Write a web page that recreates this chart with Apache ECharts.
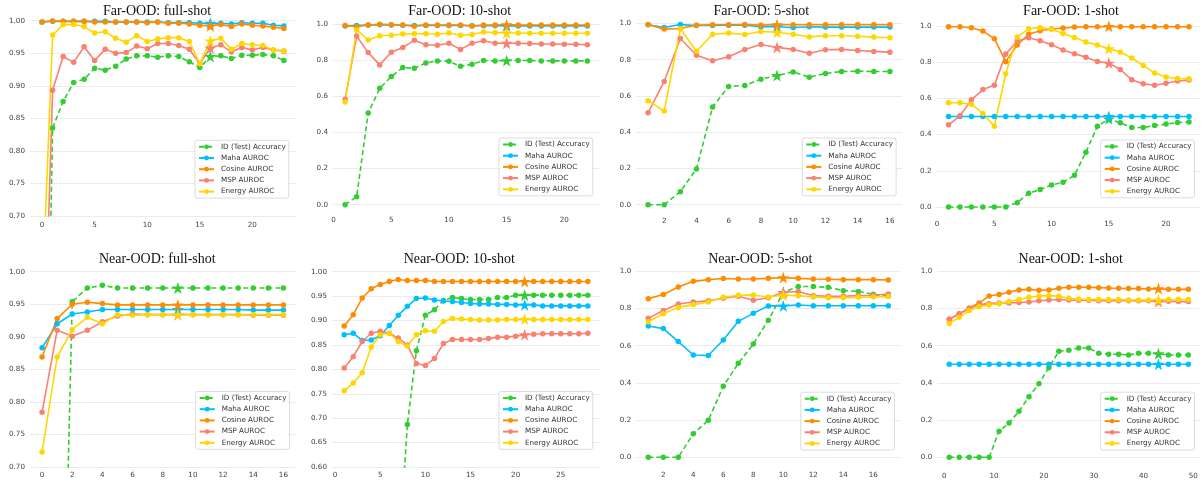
<!DOCTYPE html>
<html><head><meta charset="utf-8">
<script src="https://cdn.jsdelivr.net/npm/echarts@6/dist/echarts.min.js"></script>
<style>html,body{margin:0;padding:0;background:#fff}#c{width:1203px;height:486px}</style>
</head><body><div id="c"></div><script>
// ---------- DATA ----------
const seriesNames = ['ID (Test) Accuracy','Maha AUROC','Cosine AUROC','MSP AUROC','Energy AUROC'];
const panelTitles = ['Far-OOD: full-shot','Far-OOD: 10-shot','Far-OOD: 5-shot','Far-OOD: 1-shot',
                     'Near-OOD: full-shot','Near-OOD: 10-shot','Near-OOD: 5-shot','Near-OOD: 1-shot'];
const starX = [16, 15, 9, 15, 9, 21, 10, 43];

// Far-OOD full-shot
const farFullX = [0,1,2,3,4,5,6,7,8,9,10,11,12,13,14,15,16,17,18,19,20,21,22,23];
const farFullAcc = [0.0,0.835,0.876,0.905,0.910,0.927,0.924,0.930,0.941,0.946,0.946,0.944,0.946,0.945,0.937,0.928,0.945,0.946,0.942,0.947,0.947,0.948,0.946,0.939];
const farFullMaha = [0.998,0.9993,0.999,0.999,0.999,0.999,0.999,0.998,0.998,0.998,0.998,0.998,0.997,0.997,0.997,0.996,0.996,0.996,0.995,0.997,0.996,0.996,0.993,0.992];
const farFullCos = [0.998,0.9995,0.9993,0.999,0.999,0.998,0.998,0.998,0.998,0.998,0.997,0.998,0.996,0.996,0.995,0.993,0.992,0.994,0.991,0.995,0.993,0.992,0.990,0.988];
const farFullMsp = [0.37,0.893,0.945,0.936,0.960,0.939,0.956,0.950,0.951,0.961,0.957,0.965,0.965,0.962,0.956,0.934,0.958,0.963,0.952,0.959,0.955,0.959,0.955,0.953];
const farFullEnergy = [0.57,0.978,0.994,0.994,0.991,0.981,0.983,0.973,0.967,0.977,0.968,0.972,0.974,0.974,0.968,0.934,0.969,0.973,0.956,0.965,0.963,0.962,0.955,0.954];
const farFullXTicks = [0,5,10,15,20];

// Far-OOD 10-shot
const far10X = [1,2,3,4,5,6,7,8,9,10,11,12,13,14,15,16,17,18,19,20,21,22];
const far10Acc = [0.0,0.044,0.508,0.645,0.710,0.760,0.756,0.786,0.797,0.795,0.767,0.778,0.799,0.797,0.799,0.800,0.799,0.797,0.797,0.797,0.797,0.797];
const far10Maha = [0.990,0.993,0.996,0.998,0.996,0.995,0.993,0.994,0.993,0.993,0.993,0.992,0.992,0.992,0.991,0.991,0.991,0.991,0.991,0.991,0.991,0.991];
const far10Cos = [0.993,0.987,0.996,1.0,0.998,0.996,0.989,0.996,0.996,0.996,0.996,0.991,0.996,0.996,0.998,0.996,0.996,0.996,0.996,0.996,0.996,0.996];
const far10Msp = [0.584,0.935,0.843,0.775,0.845,0.872,0.911,0.887,0.884,0.895,0.861,0.895,0.909,0.895,0.895,0.895,0.893,0.891,0.891,0.889,0.889,0.887];
const far10Energy = [0.569,0.969,0.913,0.937,0.939,0.946,0.948,0.948,0.945,0.952,0.939,0.943,0.957,0.954,0.952,0.952,0.950,0.950,0.950,0.950,0.950,0.950];
const far10XTicks = [0,5,10,15,20];

// Far-OOD 5-shot
const far5X = [1,2,3,4,5,6,7,8,9,10,11,12,13,14,15,16];
const far5Acc = [0,0,0.072,0.197,0.539,0.653,0.658,0.693,0.713,0.733,0.704,0.724,0.735,0.737,0.735,0.735];
const far5Maha = [0.993,0.978,0.994,0.989,0.989,0.991,0.991,0.982,0.982,0.978,0.982,0.980,0.980,0.980,0.980,0.980];
const far5Cos = [0.994,0.969,0.972,0.991,0.993,0.993,0.994,0.991,0.994,0.993,0.993,0.993,0.993,0.993,0.993,0.993];
const far5Msp = [0.507,0.680,0.917,0.825,0.794,0.816,0.857,0.884,0.868,0.857,0.836,0.855,0.857,0.851,0.846,0.842];
const far5Energy = [0.574,0.517,0.971,0.847,0.941,0.947,0.939,0.956,0.952,0.941,0.926,0.932,0.932,0.930,0.925,0.921];
const far5XTicks = [2,4,6,8,10,12,14,16];

// Far-OOD 1-shot
const far1X = [1,2,3,4,5,6,7,8,9,10,11,12,13,14,15,16,17,18,19,20,21,22];
const far1Acc = [0,0,0,0,0,0,0.024,0.076,0.096,0.122,0.137,0.175,0.303,0.446,0.487,0.465,0.439,0.439,0.450,0.458,0.467,0.469];
const far1Maha = [0.5,0.5,0.5,0.5,0.5,0.5,0.5,0.5,0.5,0.5,0.5,0.5,0.5,0.5,0.5,0.5,0.5,0.5,0.5,0.5,0.5,0.5];
const far1Cos = [0.996,0.996,0.990,0.972,0.930,0.803,0.895,0.954,0.974,0.983,0.989,0.994,0.996,0.996,0.998,0.996,0.996,0.996,0.996,0.996,0.996,0.996];
const far1Msp = [0.454,0.504,0.592,0.649,0.672,0.845,0.917,0.935,0.919,0.897,0.867,0.847,0.828,0.804,0.795,0.760,0.703,0.681,0.673,0.684,0.696,0.701];
const far1Energy = [0.576,0.576,0.568,0.517,0.446,0.736,0.939,0.985,0.991,0.982,0.959,0.937,0.911,0.895,0.875,0.856,0.823,0.782,0.740,0.718,0.710,0.708];
const far1XTicks = [0,5,10,15,20];

// Near-OOD full-shot
const nearFullX = [0,1,2,3,4,5,6,7,8,9,10,11,12,13,14,15,16];
const nearFullAcc = [0.0,0.01,0.954,0.975,0.979,0.975,0.975,0.975,0.975,0.975,0.975,0.975,0.975,0.975,0.975,0.975,0.975];
const nearFullMaha = [0.883,0.920,0.935,0.938,0.942,0.942,0.942,0.942,0.942,0.942,0.942,0.942,0.942,0.942,0.941,0.941,0.941];
const nearFullCos = [0.869,0.928,0.950,0.953,0.951,0.949,0.949,0.949,0.949,0.949,0.949,0.949,0.949,0.949,0.949,0.949,0.949];
const nearFullMsp = [0.784,0.910,0.901,0.910,0.923,0.932,0.935,0.934,0.934,0.934,0.934,0.934,0.934,0.934,0.933,0.933,0.933];
const nearFullEnergy = [0.723,0.869,0.911,0.930,0.920,0.934,0.933,0.934,0.934,0.934,0.934,0.934,0.934,0.934,0.934,0.934,0.934];
const nearFullXTicks = [0,2,4,6,8,10,12,14,16];

// Near-OOD 10-shot
const near10X = [1,2,3,4,5,6,7,8,9,10,11,12,13,14,15,16,17,18,19,20,21,22,23,24,25,26,27,28];
const near10Acc = [0,0,0,0.05,0.12,0.25,0.40,0.687,0.838,0.911,0.922,0.941,0.947,0.945,0.943,0.943,0.943,0.947,0.947,0.952,0.952,0.952,0.952,0.952,0.952,0.952,0.952,0.952];
const near10Maha = [0.871,0.874,0.859,0.860,0.869,0.890,0.911,0.929,0.945,0.946,0.942,0.940,0.939,0.937,0.935,0.934,0.934,0.933,0.933,0.932,0.932,0.932,0.930,0.930,0.930,0.930,0.930,0.930];
const near10Cos = [0.889,0.912,0.946,0.965,0.974,0.980,0.984,0.982,0.982,0.982,0.980,0.980,0.980,0.980,0.980,0.980,0.980,0.980,0.980,0.980,0.980,0.980,0.980,0.980,0.980,0.980,0.980,0.980];
const near10Msp = [0.803,0.826,0.857,0.874,0.878,0.874,0.864,0.850,0.812,0.808,0.822,0.853,0.861,0.861,0.861,0.861,0.863,0.866,0.866,0.868,0.871,0.872,0.873,0.873,0.873,0.873,0.873,0.874];
const near10Energy = [0.756,0.772,0.793,0.846,0.871,0.874,0.857,0.848,0.871,0.879,0.878,0.898,0.904,0.903,0.902,0.901,0.901,0.901,0.902,0.902,0.903,0.902,0.902,0.902,0.902,0.902,0.902,0.902];
const near10XTicks = [0,5,10,15,20,25];

// Near-OOD 5-shot
const near5X = [1,2,3,4,5,6,7,8,9,10,11,12,13,14,15,16,17];
const near5Acc = [0,0,0,0.127,0.199,0.382,0.505,0.609,0.737,0.887,0.918,0.918,0.914,0.896,0.892,0.876,0.866];
const near5Maha = [0.706,0.692,0.622,0.550,0.547,0.631,0.731,0.774,0.814,0.814,0.819,0.815,0.815,0.815,0.815,0.815,0.815];
const near5Cos = [0.853,0.875,0.916,0.946,0.955,0.961,0.959,0.959,0.962,0.966,0.962,0.959,0.957,0.955,0.955,0.955,0.953];
const near5Msp = [0.747,0.789,0.824,0.835,0.841,0.855,0.866,0.844,0.858,0.887,0.891,0.869,0.866,0.866,0.869,0.871,0.878];
const near5Energy = [0.729,0.772,0.806,0.821,0.835,0.860,0.871,0.873,0.862,0.871,0.869,0.862,0.858,0.858,0.860,0.862,0.864];
const near5XTicks = [2,4,6,8,10,12,14,16];

// Near-OOD 1-shot
const near1X = [1,3,5,7,9,11,13,15,17,19,21,23,25,27,29,31,33,35,37,39,41,43,45,47,49];
const near1Acc = [0,0,0,0,0,0.140,0.185,0.247,0.326,0.396,0.482,0.570,0.575,0.588,0.588,0.559,0.554,0.554,0.550,0.559,0.559,0.557,0.550,0.550,0.550];
const near1Maha = [0.5,0.5,0.5,0.5,0.5,0.5,0.5,0.5,0.5,0.5,0.5,0.5,0.5,0.5,0.5,0.5,0.5,0.5,0.5,0.5,0.5,0.5,0.5,0.5,0.5];
const near1Cos = [0.742,0.771,0.803,0.830,0.867,0.875,0.887,0.900,0.903,0.898,0.900,0.909,0.914,0.914,0.914,0.912,0.910,0.909,0.907,0.907,0.905,0.907,0.903,0.903,0.903];
const near1Msp = [0.742,0.772,0.799,0.821,0.826,0.830,0.830,0.832,0.835,0.841,0.846,0.848,0.846,0.844,0.844,0.842,0.842,0.842,0.842,0.841,0.841,0.837,0.839,0.837,0.837];
const near1Energy = [0.720,0.753,0.789,0.810,0.819,0.826,0.837,0.848,0.860,0.867,0.869,0.866,0.855,0.851,0.849,0.849,0.848,0.848,0.846,0.846,0.846,0.846,0.848,0.848,0.848];
const near1XTicks = [0,10,20,30,40,50];

// ---------- ASSEMBLY ----------
const panels = [
  {x:farFullX, ys:[farFullAcc,farFullMaha,farFullCos,farFullMsp,farFullEnergy], ticks:farFullXTicks},
  {x:far10X, ys:[far10Acc,far10Maha,far10Cos,far10Msp,far10Energy], ticks:far10XTicks},
  {x:far5X, ys:[far5Acc,far5Maha,far5Cos,far5Msp,far5Energy], ticks:far5XTicks},
  {x:far1X, ys:[far1Acc,far1Maha,far1Cos,far1Msp,far1Energy], ticks:far1XTicks},
  {x:nearFullX, ys:[nearFullAcc,nearFullMaha,nearFullCos,nearFullMsp,nearFullEnergy], ticks:nearFullXTicks},
  {x:near10X, ys:[near10Acc,near10Maha,near10Cos,near10Msp,near10Energy], ticks:near10XTicks},
  {x:near5X, ys:[near5Acc,near5Maha,near5Cos,near5Msp,near5Energy], ticks:near5XTicks},
  {x:near1X, ys:[near1Acc,near1Maha,near1Cos,near1Msp,near1Energy], ticks:near1XTicks}
];

// layout / style (pixels)
const layout = [
  {left:30, top:20.7, width:266, height:195.3, xMin:-1.15, xMax:24.15, yMin:0.7, yMax:1.0, yStep:0.05, dec:2, lm:5.5, tx:157, ty:11.7, lx:195, ly:140.3, clip:true},
  {left:333, top:24.3, width:266.5, height:180.4, xMin:-0.05, xMax:23.05, yMin:0, yMax:1, yStep:0.2, dec:1, lm:11.8, tx:459.7, ty:11.7, lx:499, ly:138, clip:false},
  {left:636, top:23.5, width:266, height:181.2, xMin:0.25, xMax:16.75, yMin:0, yMax:1, yStep:0.2, dec:1, lm:13, tx:761.3, ty:11.7, lx:802.3, ly:138, clip:false},
  {left:936.5, top:26, width:264.5, height:181, xMin:-0.05, xMax:23.05, yMin:0, yMax:1, yStep:0.2, dec:1, lm:13.5, tx:1071, ty:11.7, lx:1100.7, ly:140, clip:false},
  {left:30, top:271.7, width:265.5, height:195.3, xMin:-0.8, xMax:16.8, yMin:0.7, yMax:1.0, yStep:0.05, dec:2, lm:4.8, tx:157.3, ty:259, lx:195.7, ly:391.5, clip:true},
  {left:332, top:271.7, width:268, height:195.3, xMin:-0.35, xMax:29.35, yMin:0.6, yMax:1.0, yStep:0.05, dec:2, lm:4.8, tx:459.3, ty:259, lx:499, ly:391.5, clip:true},
  {left:636.3, top:271.3, width:264, height:186, xMin:0.2, xMax:17.8, yMin:0, yMax:1, yStep:0.2, dec:1, lm:14.5, tx:760.3, ty:259.7, lx:800.7, ly:392.2, clip:false},
  {left:937.3, top:271.3, width:263, height:186, xMin:-1.4, xMax:51.4, yMin:0, yMax:1, yStep:0.2, dec:1, lm:15.5, tx:1070.7, ty:259, lx:1100.7, ly:392.2, clip:false}
];
const colors = ['#32CD32','#00BFFF','#FF8C00','#FA8072','#FFD700'];
const STAR = 'path://M50 0 L61.8 35.3 L99 35.3 L68.9 57.1 L80.2 92.7 L50 70.9 L19.8 92.7 L31.1 57.1 L1 35.3 L38.2 35.3 Z';
const tickFont = {fontSize:7.2, color:'#444', fontFamily:'DejaVu Sans'};

const option = {animation:false, backgroundColor:'#fff', grid:[], xAxis:[], yAxis:[], series:[], legend:[], graphic:{elements:[]}};

panels.forEach((p, i) => {
  const L = layout[i];
  option.grid.push({left:L.left, top:L.top, width:L.width, height:L.height, containLabel:false, outerBoundsMode:'none', show:false});
  option.xAxis.push({type:'value', gridIndex:i, min:L.xMin, max:L.xMax,
    axisLine:{show:false}, axisTick:{show:false}, splitLine:{show:false},
    axisLabel:Object.assign({customValues:p.ticks, margin:L.lm}, tickFont)});
  option.yAxis.push({type:'value', gridIndex:i, min:L.yMin, max:L.yMax, interval:L.yStep,
    axisLine:{show:false}, axisTick:{show:false},
    splitLine:{show:true, lineStyle:{color:'#ebebeb', width:1}},
    axisLabel:Object.assign({margin:5, formatter:(v)=>v.toFixed(L.dec)}, tickFont)});
  p.ys.forEach((ys, k) => {
    option.series.push({
      type:'line', name:seriesNames[k], xAxisIndex:i, yAxisIndex:i, clip:L.clip,
      symbol:'circle', symbolSize:5.5, showSymbol:true, color:colors[k],
      lineStyle:{width:1.6, color:colors[k], type: k===0 ? [5,3] : 'solid'},
      itemStyle:{color:colors[k]},
      emphasis:{disabled:true},
      data: p.x.map((x, j) => x === starX[i]
        ? {value:[x, ys[j]], symbol:STAR, symbolSize:12}
        : [x, ys[j]])
    });
  });
  option.legend.push({
    left:L.lx, top:L.ly, orient:'vertical', data:seriesNames, selectedMode:false,
    itemWidth:15, itemHeight:6, itemGap:2.2,
    padding:[2,3,2,3], borderColor:'#d3d3d3', borderWidth:0.8, borderRadius:2,
    backgroundColor:'rgba(255,255,255,0.85)',
    textStyle:{fontSize:7.2, color:'#333', fontFamily:'DejaVu Sans', lineHeight:9, padding:[0,0,0,2]}
  });
  option.graphic.elements.push({type:'text', x:L.tx, y:L.ty, silent:true, z:100,
    style:{text:panelTitles[i], font:'14px "Liberation Serif"', fill:'#111',
      align:'center', verticalAlign:'middle', textAlign:'center', textVerticalAlign:'middle'}});
});
// the Near-OOD 5-shot title is partly covered by its plot area in the reference
option.graphic.elements.push({type:'rect', silent:true, z:101,
  shape:{x:636, y:263.3, width:265, height:7}, style:{fill:'#fff'}});

const chart = echarts.init(document.getElementById('c'), null, {renderer:'canvas'});
chart.setOption(option);
</script></body></html>
